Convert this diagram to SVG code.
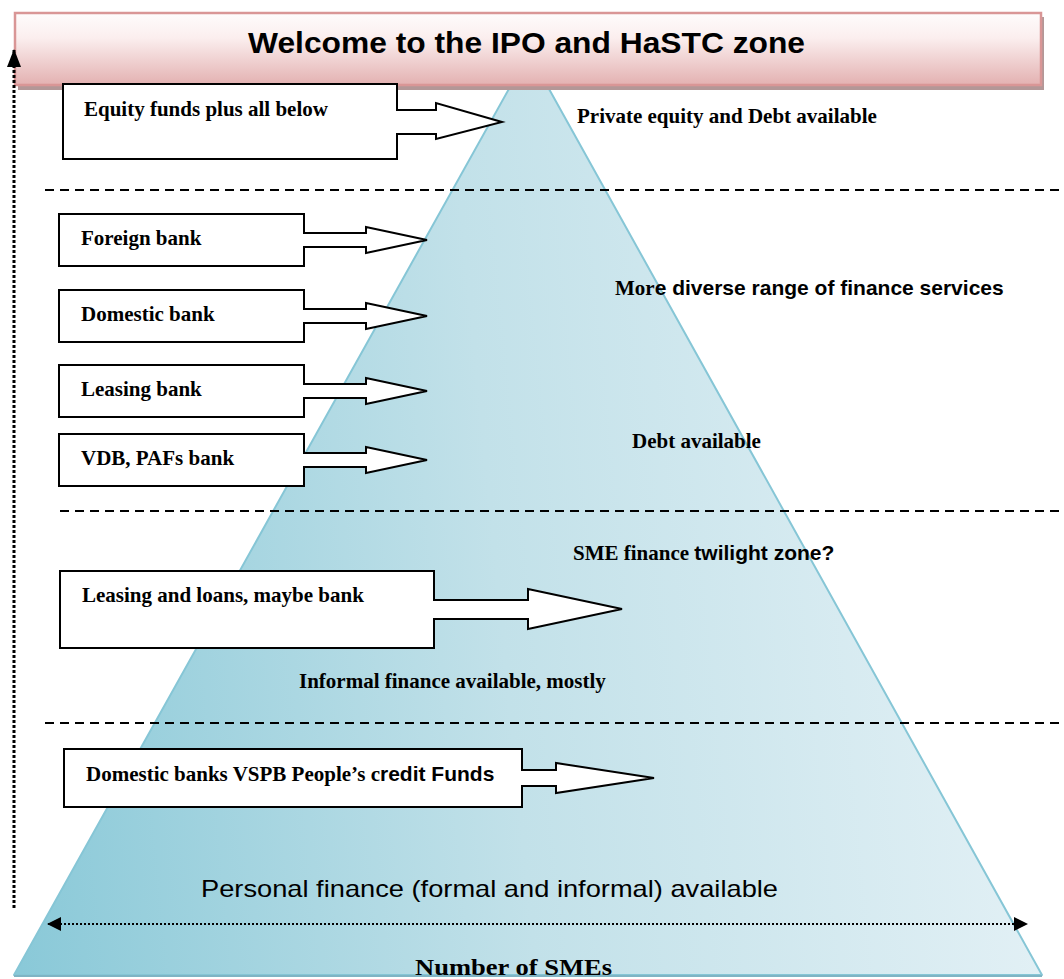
<svg xmlns="http://www.w3.org/2000/svg" width="1064" height="979" viewBox="0 0 1064 979">
  <defs>
    <linearGradient id="pyrFill" gradientUnits="userSpaceOnUse" x1="20" y1="960" x2="1040" y2="860">
      <stop offset="0" stop-color="#8ac9d8"/>
      <stop offset="0.5" stop-color="#c2e1e9"/>
      <stop offset="1" stop-color="#e2f0f5"/>
    </linearGradient>
    <linearGradient id="titleFill" x1="0" y1="0" x2="0" y2="1">
      <stop offset="0" stop-color="#fefcfc"/>
      <stop offset="0.35" stop-color="#fbeeee"/>
      <stop offset="1" stop-color="#e3b1b1"/>
    </linearGradient>
    <marker id="dotHead" viewBox="0 0 14 14" refX="13" refY="7" markerWidth="14" markerHeight="14" markerUnits="userSpaceOnUse" orient="auto-start-reverse">
      <path d="M0,0 L14,7 L0,14 Z" fill="#000"/>
    </marker>
    <marker id="upHead" viewBox="0 0 18 14" refX="17" refY="7" markerWidth="18" markerHeight="14" markerUnits="userSpaceOnUse" orient="auto">
      <path d="M0,0 L18,7 L0,14 Z" fill="#000"/>
    </marker>
  </defs>
  <style>
    .box { fill: #ffffff; stroke: #000000; stroke-width: 2; stroke-linejoin: miter; }
    .zone { fill: none; stroke: #000000; stroke-width: 2; stroke-dasharray: 9 6; }
    .serif { font-family: "Liberation Serif", "Times New Roman", serif; font-weight: bold; font-size: 21px; fill: #000; }
    .sans { font-family: "Liberation Sans", Arial, sans-serif; font-weight: bold; font-size: 21px; fill: #000; }
    .plain { font-family: "Liberation Sans", Arial, sans-serif; font-size: 24px; fill: #000; }
    .heading { font-family: "Liberation Sans", Arial, sans-serif; font-weight: bold; font-size: 30px; fill: #000; }
    .axis { font-family: "Liberation Serif", "Times New Roman", serif; font-weight: bold; font-size: 23px; fill: #000; }
  </style>

  <!-- pyramid of SME finance -->
  <g id="pyramid">
    <path d="M529,53 L1042,975 L14,975 Z" fill="url(#pyrFill)" stroke="#86c6d6" stroke-width="2" stroke-linejoin="round"/>
    <line x1="14" y1="976" x2="1042" y2="976" stroke="#7fb4c4" stroke-width="2"/>
  </g>

  <!-- header banner -->
  <g id="title">
    <rect x="18" y="17" width="1026" height="73" fill="#b39797"/>
    <rect x="15" y="13" width="1026" height="72" fill="url(#titleFill)" stroke="#d99696" stroke-width="2.5"/>
    <text x="248" y="53" class="heading" textLength="557" lengthAdjust="spacingAndGlyphs">Welcome to the IPO and HaSTC zone</text>
  </g>

  <!-- zone separators -->
  <g id="separators">
    <line class="zone" x1="45" y1="190" x2="1060" y2="190"/>
    <line class="zone" x1="60" y1="511" x2="1060" y2="511"/>
    <line class="zone" x1="45" y1="723" x2="1060" y2="723"/>
  </g>

  <!-- source boxes with block arrows -->
  <g id="equity">
    <path class="box" d="M63,84 H397 V110 H436 V103 L502,122 L436,139 V134 H397 V159 H63 Z"/>
    <text x="84" y="116" class="serif">Equity funds plus all below</text>
  </g>
  <g id="foreign">
    <path class="box" d="M59,214 H304 V233 H366 V227 L427,240 L366,253 V247 H304 V266 H59 Z"/>
    <text x="81" y="245" class="serif">Foreign bank</text>
  </g>
  <g id="domestic">
    <path class="box" d="M59,290 H304 V309 H366 V303 L427,316 L366,329 V323 H304 V342 H59 Z"/>
    <text x="81" y="321" class="serif">Domestic bank</text>
  </g>
  <g id="leasing">
    <path class="box" d="M59,365 H304 V384 H366 V378 L427,391 L366,404 V398 H304 V417 H59 Z"/>
    <text x="81" y="396" class="serif">Leasing bank</text>
  </g>
  <g id="vdb">
    <path class="box" d="M59,434 H304 V453 H366 V447 L427,460 L366,473 V467 H304 V486 H59 Z"/>
    <text x="81" y="465" class="serif">VDB, PAFs bank</text>
  </g>
  <g id="leasing-loans">
    <path class="box" d="M60,571 H434 V600 H528 V589 L622,609 L528,629 V619 H434 V648 H60 Z"/>
    <text x="82" y="602" class="serif">Leasing and loans, maybe bank</text>
  </g>
  <g id="domestic-funds">
    <path class="box" d="M64,749 H522 V770 H556 V763 L654,778 L556,793 V786 H522 V807 H64 Z"/>
    <text x="86" y="781" class="serif">Domestic banks VSPB People’s c<tspan class="sans">redit Funds</tspan></text>
  </g>

  <!-- zone descriptions -->
  <g id="labels">
    <text x="577" y="123" class="serif">Private equity and Debt available</text>
    <text x="615" y="295" class="serif">Mor<tspan class="sans">e diverse range of finance services</tspan></text>
    <text x="632" y="448" class="serif">Debt available</text>
    <text x="573" y="560" class="serif">SME finance <tspan class="sans">twilight zone?</tspan></text>
    <text x="299" y="688" class="serif">Informal finance available, mostly</text>
    <text x="201" y="897" class="plain" textLength="577" lengthAdjust="spacingAndGlyphs">Personal finance (formal and informal) available</text>
    <text x="415" y="975" class="axis" textLength="197" lengthAdjust="spacingAndGlyphs">Number of SMEs</text>
  </g>

  <!-- axis connectors -->
  <g id="connectors">
    <line x1="14" y1="908" x2="14" y2="50" stroke="#000" stroke-width="3" stroke-dasharray="3 2" marker-end="url(#upHead)"/>
    <line x1="48" y1="924" x2="1027" y2="924" stroke="#000" stroke-width="2" stroke-dasharray="2 2" marker-start="url(#dotHead)" marker-end="url(#dotHead)"/>
  </g>
</svg>
